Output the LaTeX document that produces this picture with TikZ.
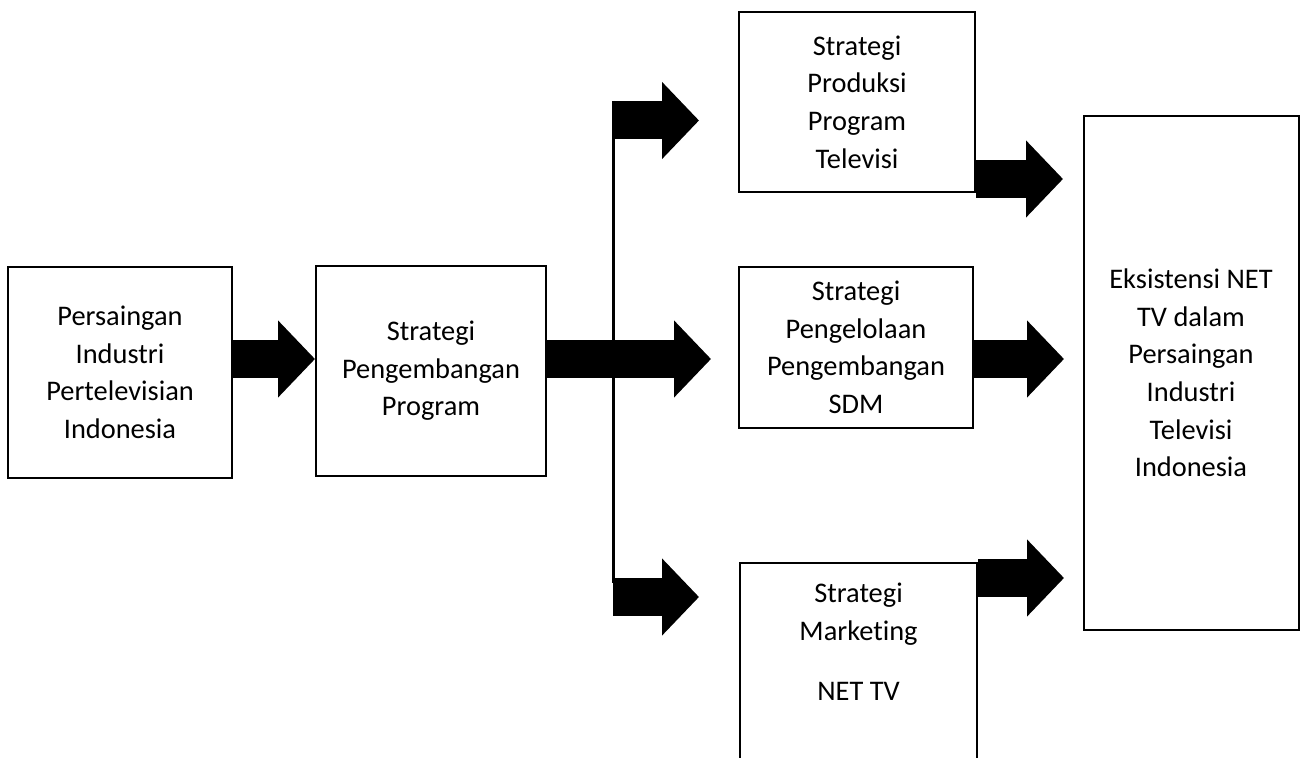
\documentclass[tikz,border=0pt]{standalone}
\usepackage{fontspec}
\setmainfont[Ligatures=NoCommon]{Carlito}
\usetikzlibrary{arrows.meta}

\tikzset{
  box/.style={draw, line width=1pt, align=center, inner sep=2pt, font=\fontsize{14.2}{18.8}\selectfont},
  fat/.style={line width=19pt, -{Triangle[length=18.5pt, width=37.5pt]}},
}

\begin{document}
\begin{tikzpicture}[x=0.5pt, y=-0.5pt]
      \useasboundingbox (0,0) rectangle (1300,758);
      \clip (0,0) rectangle (1300,758);
      % Boxes:
      \node[box, minimum width=112pt, minimum height=105.5pt] (persaingan) at (120,372.5) {Persaingan\\Industri\\Pertelevisian\\Indonesia};
      \node[box, minimum width=115pt, minimum height=105pt] (pengembangan) at (431,371) {Strategi\\Pengembangan\\Program};
      \node[box, minimum width=118pt, minimum height=90pt] (produksi) at (857,102) {Strategi\\Produksi\\Program\\Televisi};
      \node[box, minimum width=117pt, minimum height=80.5pt] (sdm) at (856,347.5) {Strategi\\Pengelolaan\\Pengembangan\\SDM};
      \node[box, anchor=north, minimum width=118.5pt, inner ysep=10pt] (marketing) at (858.5,562) {Strategi\\Marketing\\[11.5pt]NET TV\\[40pt]~};
      \node[box, minimum width=107.5pt, minimum height=257pt] (eksistensi) at (1191,373) {Eksistensi NET\\TV dalam\\Persaingan\\Industri\\Televisi\\Indonesia};
      % Arrows:
      \coordinate (row) at (0,359);
      \coordinate (jtop) at (613,120.5);
      \coordinate (jbot) at (612.5,597);
      \draw[fat] (persaingan.east |- row) -- (pengembangan.west |- row);
      \draw[line width=1.5pt] (613,101) -- (613,583);
      \draw[fat] (pengembangan.east |- row) -- ++(164,0);
      \draw[fat] (jtop) -- ++(86,0);
      \draw[fat] (jbot) -- ++(86.5,0);
      \draw[fat] (produksi.east |- 0,179) -- ++(87,0);
      \draw[fat] (sdm.east |- row) -- ++(90,0);
      \draw[fat] (marketing.east |- 0,578) -- ++(86,0);
\end{tikzpicture}
\end{document}
